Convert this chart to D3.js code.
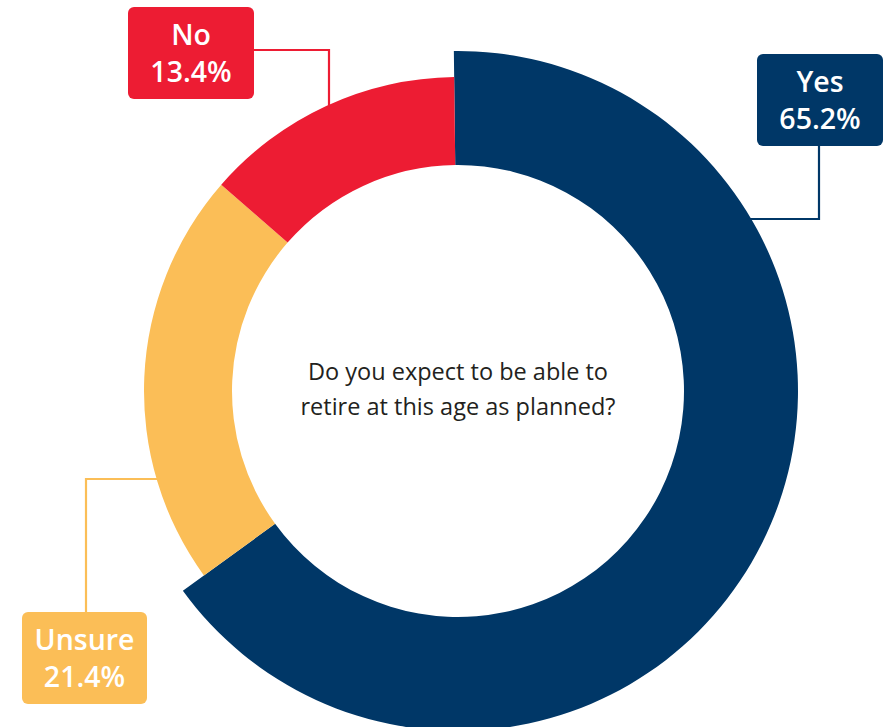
<!DOCTYPE html>
<html>
<head>
<meta charset="utf-8">
<script src="https://cdn.jsdelivr.net/npm/d3@7"></script>
<style>
  html, body { margin: 0; padding: 0; background: #ffffff; }
  svg { display: block; }
</style>
</head>
<body>
<svg id="chart" width="884" height="727"></svg>
<script>
// Survey answers, drawn clockwise from the top
const categories = ["Yes", "Unsure", "No"];
const values = [65.2, 21.4, 13.4];
const colors = ["#003767", "#FBBE57", "#ED1C33"];
const question = ["Do you expect to be able to", "retire at this age as planned?"];

const svg = d3.select("#chart");
const cx = 458, cy = 391;
const innerR = 226;
// the leading answer is drawn with a thicker band
const outerR = { Yes: 340, Unsure: 314, No: 314 };

const data = categories.map((c, i) => ({ category: c, value: values[i], color: colors[i] }));

const pie = d3.pie()
  .value(d => d.value)
  .sort(null)
  .startAngle(-0.7 * Math.PI / 180)
  .endAngle(2 * Math.PI - 0.7 * Math.PI / 180);

const arcs = pie(data);
const g = svg.append("g").attr("transform", `translate(${cx},${cy})`);

const arc = d3.arc()
  .innerRadius(innerR)
  .outerRadius(d => outerR[d.data.category]);

g.selectAll("path.slice")
  .data(arcs)
  .join("path")
  .attr("class", "slice")
  .attr("d", arc)
  .attr("fill", d => d.data.color);

// centre question
g.append("text")
  .attr("text-anchor", "middle")
  .attr("font-family", "'Open Sans', sans-serif")
  .attr("font-size", 23.5)
  .attr("fill", "#231f20")
  .selectAll("tspan")
  .data(question)
  .join("tspan")
  .attr("x", 0)
  .attr("y", (d, i) => -11 + i * 35)
  .text(d => d);

// label boxes with elbow leader lines
const boxes = {
  No:     { x: 128, y: 7,   w: 126, h: 92 },
  Yes:    { x: 757, y: 54,  w: 126, h: 92 },
  Unsure: { x: 22,  y: 612, w: 125, h: 92 }
};

function ringPoint(category, px, py, side) {
  // where a horizontal/vertical leader meets the outer edge of the band
  const r = outerR[category];
  if (side === "vertical") {
    const dx = px - cx;
    return [px, cy - Math.sqrt(r * r - dx * dx)];
  }
  const dy = py - cy;
  const dir = side === "right" ? 1 : -1;
  return [cx + dir * Math.sqrt(r * r - dy * dy), py];
}

const leaders = {
  No: () => {
    const b = boxes.No, y = 50, x = 329;
    const end = ringPoint("No", x, 0, "vertical");
    return [[b.x + b.w, y], [x, y], [x, end[1] + 4]];
  },
  Yes: () => {
    const b = boxes.Yes, x = 819, y = 219;
    const end = ringPoint("Yes", 0, y, "right");
    return [[x, b.y + b.h], [x, y], [end[0] - 4, y]];
  },
  Unsure: () => {
    const b = boxes.Unsure, x = 86, y = 479;
    const end = ringPoint("Unsure", 0, y, "left");
    return [[x, b.y], [x, y], [end[0] + 4, y]];
  }
};

const line = d3.line();
data.forEach(d => {
  svg.append("path")
    .attr("d", line(leaders[d.category]()))
    .attr("fill", "none")
    .attr("stroke", d.color)
    .attr("stroke-width", 2.2);
});

data.forEach(d => {
  const b = boxes[d.category];
  svg.append("rect")
    .attr("x", b.x).attr("y", b.y)
    .attr("width", b.w).attr("height", b.h)
    .attr("rx", 6).attr("ry", 6)
    .attr("fill", d.color);
  const t = svg.append("text")
    .attr("text-anchor", "middle")
    .attr("font-family", "'Open Sans', sans-serif")
    .attr("font-weight", 600)
    .attr("font-size", 28.5)
    .attr("fill", "#ffffff");
  t.append("tspan").attr("x", b.x + b.w / 2).attr("y", b.y + 38).text(d.category);
  t.append("tspan").attr("x", b.x + b.w / 2).attr("y", b.y + 75).text(d3.format(".1f")(d.value) + "%");
});
</script>
</body>
</html>
